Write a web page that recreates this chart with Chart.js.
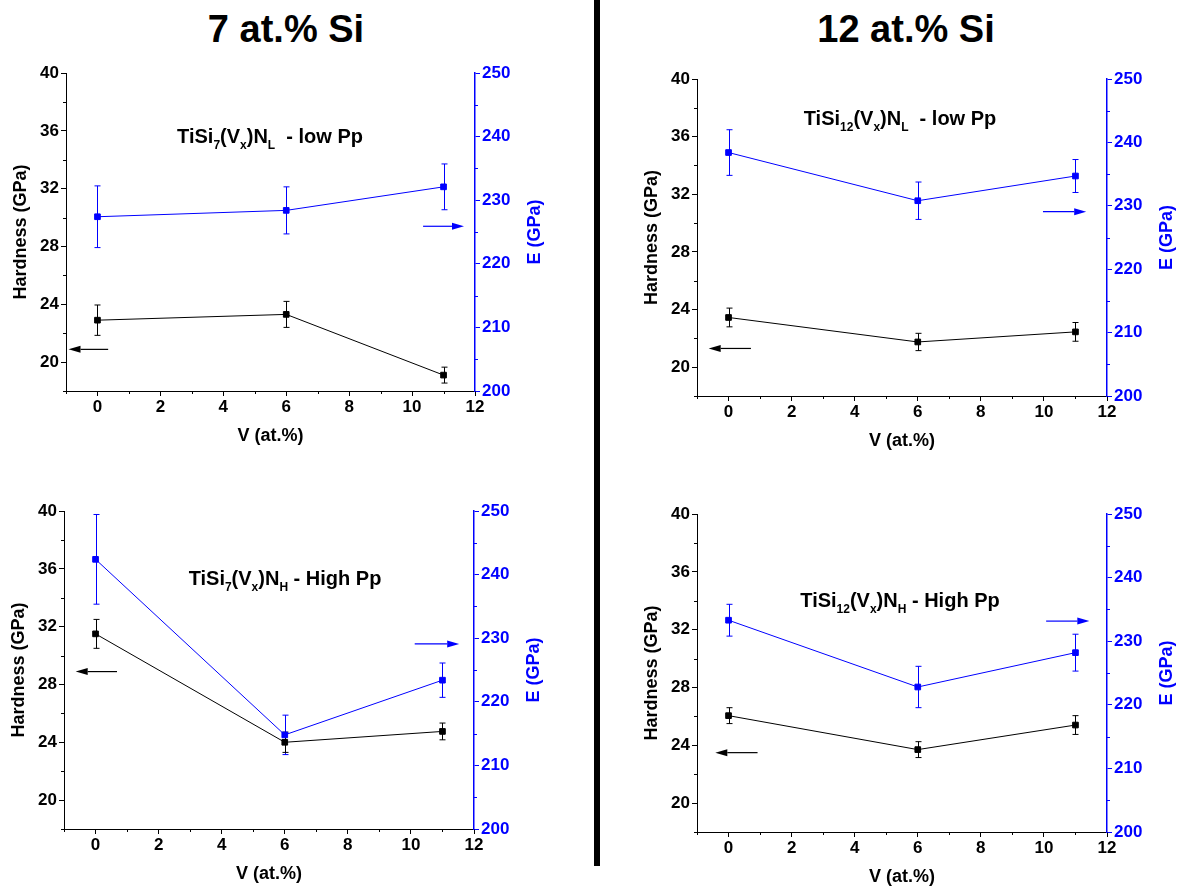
<!DOCTYPE html>
<html>
<head>
<meta charset="utf-8">
<script src="https://cdn.jsdelivr.net/npm/chart.js@4.4.1/dist/chart.umd.min.js"></script>
<style>
  body { margin: 0; background: #fff; width: 1185px; height: 890px; position: relative; overflow: hidden;
         font-family: "Liberation Sans", Arial, sans-serif; }
  .head { position: absolute; top: 7px; line-height: 44px; font-size: 38px; font-weight: bold;
          transform: translateX(-50%); white-space: nowrap; color: #000; }
  .divider { position: absolute; left: 594px; top: 0; width: 6px; height: 866px; background: #000; }
  canvas.panel { position: absolute; }
</style>
</head>
<body>
<div class="head" style="left:286px">7 at.% Si</div>
<div class="head" style="left:906px">12 at.% Si</div>
<div class="divider"></div>
<canvas id="p7L" class="panel"></canvas>
<canvas id="p12L" class="panel"></canvas>
<canvas id="p7H" class="panel"></canvas>
<canvas id="p12H" class="panel"></canvas>
<script>
/* ---------- DATA ---------- */
const vAt = [0, 6, 11];
const vTicks = [0, 2, 4, 6, 8, 10, 12];
const vMinor = [-1, 1, 3, 5, 7, 9, 11];
const hTicks = [20, 24, 28, 32, 36, 40];
const hMinor = [18, 22, 26, 30, 34, 38];
const eTicks = [200, 210, 220, 230, 240, 250];
const eMinor = [205, 215, 225, 235, 245];

// 7 at.% Si, low Pp
const h7L = [22.9, 23.3, 19.1];
const h7LErr = [1.05, 0.9, 0.55];
const e7L = [227.4, 228.4, 232.1];
const e7LErr = [4.85, 3.7, 3.6];

// 12 at.% Si, low Pp
const h12L = [23.45, 21.75, 22.45];
const h12LErr = [0.65, 0.6, 0.65];
const e12L = [238.4, 230.8, 234.7];
const e12LErr = [3.6, 2.95, 2.6];

// 7 at.% Si, high Pp
const h7H = [31.5, 24.0, 24.75];
const h7HErr = [1.0, 0.7, 0.58];
const e7H = [242.4, 214.8, 223.4];
const e7HErr = [7.05, 3.1, 2.7];

// 12 at.% Si, high Pp
const h12H = [26.05, 23.7, 25.4];
const h12HErr = [0.55, 0.55, 0.65];
const e12H = [233.3, 222.8, 228.2];
const e12HErr = [2.5, 3.25, 2.9];

/* ---------- LAYOUT ---------- */
const BLUE = "#0000ff";
const FONT = "'Liberation Sans', Arial, sans-serif";
const M = { left: 66, right: 90, top: 14, bottom: 70 };

const panels = [
  { id: "p7L", area: [66, 73, 475, 391], h: h7L, hErr: h7LErr, e: e7L, eErr: e7LErr,
    hArrow: [0.34, -0.92, 20.88], eArrow: [10.35, 11.65, 225.9],
    label: [["TiSi", 0], ["7", 1], ["(V", 0], ["x", 1], [")N", 0], ["L", 1], ["  - low Pp", 0]], labelAt: [204, 63] },
  { id: "p12L", area: [697, 79, 1107, 396], h: h12L, hErr: h12LErr, e: e12L, eErr: e12LErr,
    hArrow: [0.71, -0.63, 21.3], eArrow: [9.97, 11.34, 229.07],
    label: [["TiSi", 0], ["12", 1], ["(V", 0], ["x", 1], [")N", 0], ["L", 1], ["  - low Pp", 0]], labelAt: [203, 39] },
  { id: "p7H", area: [64, 511, 474, 829], h: h7H, hErr: h7HErr, e: e7H, eErr: e7HErr,
    hArrow: [0.68, -0.63, 28.89], eArrow: [10.12, 11.53, 229.1],
    label: [["TiSi", 0], ["7", 1], ["(V", 0], ["x", 1], [")N", 0], ["H", 1], [" - High Pp", 0]], labelAt: [221, 67] },
  { id: "p12H", area: [697, 514, 1107, 832], h: h12H, hErr: h12HErr, e: e12H, eErr: e12HErr,
    hArrow: [0.92, -0.42, 23.49], eArrow: [10.07, 11.44, 233.16],
    label: [["TiSi", 0], ["12", 1], ["(V", 0], ["x", 1], [")N", 0], ["H", 1], [" - High Pp", 0]], labelAt: [203, 86] }
];

/* ---------- PLUGIN: error bars, minor ticks, arrows, labels ---------- */
function drawArrow(ctx, xs, ys, a, color) {
  const x1 = xs.getPixelForValue(a[0]);
  const x2 = xs.getPixelForValue(a[1]);
  const y = ys.getPixelForValue(a[2]);
  const dir = x2 > x1 ? 1 : -1;
  const head = 12;
  ctx.strokeStyle = color;
  ctx.fillStyle = color;
  ctx.lineWidth = 1.2;
  ctx.beginPath();
  ctx.moveTo(x1, y);
  ctx.lineTo(x2 - dir * head, y);
  ctx.stroke();
  ctx.beginPath();
  ctx.moveTo(x2, y);
  ctx.lineTo(x2 - dir * head, y - 3.5);
  ctx.lineTo(x2 - dir * head, y + 3.5);
  ctx.closePath();
  ctx.fill();
}

const extras = {
  id: "extras",
  beforeDatasetsDraw(chart) {
    const ctx = chart.ctx;
    ctx.save();
    chart.data.datasets.forEach((ds, i) => {
      const meta = chart.getDatasetMeta(i);
      const ys = chart.scales[ds.yAxisID];
      ctx.strokeStyle = ds.borderColor;
      ctx.lineWidth = 1;
      meta.data.forEach((pt, j) => {
        const v = ds.data[j].y, e = ds.err[j];
        const x = Math.round(pt.x) + 0.5;
        const yt = ys.getPixelForValue(v + e), yb = ys.getPixelForValue(v - e);
        ctx.beginPath();
        ctx.moveTo(x, yt); ctx.lineTo(x, yb);
        ctx.moveTo(x - 3, yt); ctx.lineTo(x + 3, yt);
        ctx.moveTo(x - 3, yb); ctx.lineTo(x + 3, yb);
        ctx.stroke();
      });
    });
    ctx.restore();
  },
  afterDraw(chart) {
    const ctx = chart.ctx;
    const p = chart.options.panel;
    const { left, right, top, bottom } = chart.chartArea;
    const xs = chart.scales.x, yH = chart.scales.yH, yE = chart.scales.yE;
    ctx.save();

    // minor ticks
    ctx.lineWidth = 1;
    ctx.strokeStyle = "#000";
    ctx.beginPath();
    vMinor.forEach(v => {
      const px = Math.round(xs.getPixelForValue(v)) + 0.5;
      ctx.moveTo(px, bottom); ctx.lineTo(px, bottom + 3);
    });
    hMinor.forEach(v => {
      const py = Math.round(yH.getPixelForValue(v)) + 0.5;
      ctx.moveTo(left, py); ctx.lineTo(left - 3, py);
    });
    ctx.stroke();
    ctx.strokeStyle = BLUE;
    ctx.beginPath();
    eMinor.forEach(v => {
      const py = Math.round(yE.getPixelForValue(v)) + 0.5;
      ctx.moveTo(right, py); ctx.lineTo(right + 3, py);
    });
    ctx.stroke();

    // arrows
    drawArrow(ctx, xs, yH, p.hArrow, "#000");
    drawArrow(ctx, xs, yE, p.eArrow, BLUE);

    // right axis title
    ctx.save();
    ctx.translate(right + 60, (top + bottom) / 2);
    ctx.rotate(-Math.PI / 2);
    ctx.fillStyle = BLUE;
    ctx.font = "bold 18px " + FONT;
    ctx.textAlign = "center";
    ctx.textBaseline = "middle";
    ctx.fillText("E (GPa)", 0, 0);
    ctx.restore();

    // panel label with subscripts
    const mainFont = "bold 20px " + FONT, subFont = "bold 12px " + FONT;
    let total = 0;
    p.label.forEach(([t, sub]) => {
      ctx.font = sub ? subFont : mainFont;
      total += ctx.measureText(t).width;
    });
    let x = left + p.labelAt[0] - total / 2;
    const base = top + p.labelAt[1] + 7;
    ctx.fillStyle = "#000";
    ctx.textAlign = "left";
    ctx.textBaseline = "alphabetic";
    p.label.forEach(([t, sub]) => {
      ctx.font = sub ? subFont : mainFont;
      ctx.fillText(t, x, sub ? base + 6 : base);
      x += ctx.measureText(t).width;
    });
    ctx.restore();
  }
};

/* ---------- CHARTS ---------- */
function makeChart(p) {
  const [l, t, r, b] = p.area;
  const cv = document.getElementById(p.id);
  const W = M.left + (r - l) + M.right;
  const H = M.top + (b - t) + M.bottom;
  cv.width = W;
  cv.height = H;
  cv.style.left = (l - M.left) + "px";
  cv.style.top = (t - M.top) + "px";
  cv.style.width = W + "px";
  cv.style.height = H + "px";

  const tickFont = { family: FONT, size: 17, weight: "bold" };
  const titleFont = { family: FONT, size: 18, weight: "bold" };

  new Chart(cv, {
    type: "line",
    data: {
      datasets: [
        {
          data: vAt.map((x, i) => ({ x, y: p.e[i] })),
          err: p.eErr,
          yAxisID: "yE",
          borderColor: BLUE,
          backgroundColor: BLUE,
          borderWidth: 1,
          pointStyle: "rect",
          pointRadius: 4,
          pointBorderWidth: 1,
          tension: 0
        },
        {
          data: vAt.map((x, i) => ({ x, y: p.h[i] })),
          err: p.hErr,
          yAxisID: "yH",
          borderColor: "#000",
          backgroundColor: "#000",
          borderWidth: 1,
          pointStyle: "rect",
          pointRadius: 4,
          pointBorderWidth: 1,
          tension: 0
        }
      ]
    },
    options: {
      panel: p,
      responsive: false,
      animation: false,
      events: [],
      layout: { padding: { top: M.top, left: 0, right: 0, bottom: 0 } },
      plugins: { legend: { display: false }, tooltip: { enabled: false } },
      scales: {
        x: {
          type: "linear",
          min: -1,
          max: 12,
          afterBuildTicks: s => { s.ticks = vTicks.map(v => ({ value: v })); },
          afterFit: s => { s.height = M.bottom; },
          grid: { drawOnChartArea: false, drawTicks: true, tickLength: 5, color: "#000" },
          border: { color: "#000", width: 1 },
          ticks: { color: "#000", font: tickFont, padding: 1, maxRotation: 0, autoSkip: false },
          title: { display: true, text: "V (at.%)", color: "#000", font: titleFont, padding: { bottom: 14, top: 0 } }
        },
        yH: {
          type: "linear",
          position: "left",
          min: 18,
          max: 40,
          afterBuildTicks: s => { s.ticks = hTicks.map(v => ({ value: v })); },
          afterFit: s => { s.width = M.left; },
          grid: { drawOnChartArea: false, drawTicks: true, tickLength: 5, color: "#000" },
          border: { color: "#000", width: 1 },
          ticks: { color: "#000", font: tickFont, padding: 2 },
          title: { display: true, text: "Hardness (GPa)", color: "#000", font: titleFont, padding: { top: 10, bottom: 0 } }
        },
        yE: {
          type: "linear",
          position: "right",
          min: 200,
          max: 250,
          afterBuildTicks: s => { s.ticks = eTicks.map(v => ({ value: v })); },
          afterFit: s => { s.width = M.right; },
          grid: { drawOnChartArea: false, drawTicks: true, tickLength: 5, color: BLUE },
          border: { color: BLUE, width: 1.5 },
          ticks: { color: BLUE, font: tickFont, padding: 2 }
        }
      }
    },
    plugins: [extras]
  });
}

panels.forEach(makeChart);
</script>
</body>
</html>
